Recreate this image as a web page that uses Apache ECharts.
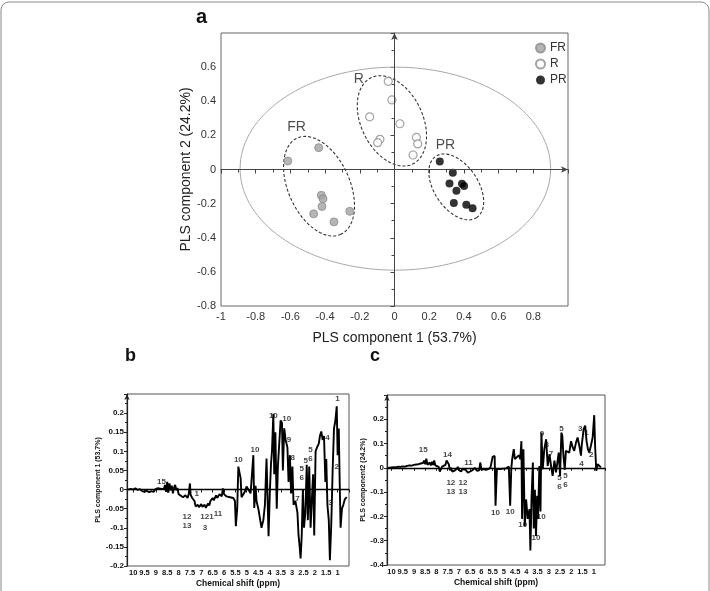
<!DOCTYPE html>
<html>
<head>
<meta charset="utf-8">
<script src="https://cdn.jsdelivr.net/npm/echarts@6/dist/echarts.min.js"></script>
<style>
  html, body { margin: 0; padding: 0; background: #fff; }
  #chart { width: 710px; height: 591px; }
</style>
</head>
<body>
<div id="chart"></div>
<script>
// score plot (panel a)
var frPoints = [[-0.615, 0.05], [-0.437, 0.128], [-0.422, -0.151], [-0.412, -0.171], [-0.418, -0.217], [-0.466, -0.26], [-0.349, -0.307], [-0.258, -0.245]];
var rPoints = [[-0.036, 0.517], [-0.015, 0.408], [-0.143, 0.309], [0.031, 0.268], [-0.084, 0.177], [-0.097, 0.157], [0.126, 0.188], [0.134, 0.15], [0.107, 0.085]];
var prPoints = [[0.261, 0.047], [0.336, -0.019], [0.317, -0.082], [0.389, -0.083], [0.401, -0.097], [0.357, -0.124], [0.342, -0.196], [0.414, -0.206], [0.45, -0.227]];
var groupNames = [[-0.565, 0.247, 'FR'], [-0.206, 0.528, 'R'], [0.294, 0.142, 'PR']];
// ellipses: centre x, centre y, semi-axis a, semi-axis b, angle (deg)
var ellOuter = [0.005, 0.005, 0.895, 0.595, 0];
var ellFR = [-0.435, -0.098, 0.309, 0.178, -66.5];
var ellR = [-0.015, 0.285, 0.28, 0.178, -65.2];
var ellPR = [0.356, -0.102, 0.215, 0.127, -57.1];

// loadings (panels b, c): [chemical shift ppm, loading]
var specB = [[10.22,0],[10.1,0.002],[10.0,0],[9.9,0.003],[9.8,-0.001],[9.7,0.001],[9.6,-0.004],[9.5,-0.006],[9.4,-0.003],[9.3,-0.007],[9.2,-0.004],[9.1,-0.006],[9.0,0.002],[8.9,0.004],[8.8,0.002],[8.72,0.006],[8.65,0.001],[8.6,0.012],[8.55,-0.006],[8.5,0.02],[8.45,-0.008],[8.4,0.016],[8.35,-0.002],[8.3,0.01],[8.25,-0.01],[8.2,0.005],[8.15,0.012],[8.1,-0.002],[8.05,0.004],[8.0,-0.012],[7.9,-0.016],[7.8,-0.02],[7.7,-0.015],[7.6,-0.022],[7.55,-0.01],[7.5,0.016],[7.47,-0.014],[7.4,-0.022],[7.3,-0.03],[7.25,-0.044],[7.15,-0.04],[7.1,-0.046],[7.0,-0.038],[6.95,-0.045],[6.85,-0.04],[6.8,-0.048],[6.7,-0.036],[6.65,-0.042],[6.6,-0.03],[6.5,-0.022],[6.45,-0.028],[6.35,-0.015],[6.3,-0.022],[6.2,-0.012],[6.1,-0.018],[6.05,0.003],[6.0,-0.012],[5.89,-0.018],[5.74,-0.02],[5.59,-0.022],[5.52,-0.03],[5.48,-0.096],[5.42,-0.05],[5.37,0.06],[5.33,0.064],[5.27,0.03],[5.23,-0.02],[5.15,-0.012],[5.08,-0.005],[5.01,0.008],[4.93,0],[4.83,-0.01],[4.76,-0.005],[4.71,0.09],[4.67,-0.048],[4.61,0.01],[4.57,-0.03],[4.49,-0.05],[4.42,-0.075],[4.35,-0.1],[4.27,-0.08],[4.2,-0.04],[4.13,0.081],[4.08,-0.03],[4.04,-0.122],[3.98,0],[3.93,0.07],[3.89,0.1],[3.83,0.198],[3.79,0.04],[3.74,0.15],[3.68,-0.05],[3.63,0.06],[3.57,0.12],[3.51,0.181],[3.45,0.175],[3.41,0.05],[3.35,0.16],[3.29,0.13],[3.21,0.11],[3.16,0.02],[3.1,0.09],[3.05,-0.01],[2.99,0.06],[2.94,-0.04],[2.86,-0.03],[2.77,-0.06],[2.72,-0.12],[2.67,-0.15],[2.63,-0.18],[2.58,-0.12],[2.53,0],[2.48,-0.1],[2.42,-0.06],[2.36,0.065],[2.31,-0.08],[2.25,0.06],[2.19,-0.1],[2.13,-0.02],[2.08,0.04],[2.03,-0.12],[1.97,0.1],[1.91,0.11],[1.83,0.12],[1.78,0.14],[1.72,0.152],[1.66,0.13],[1.6,0.14],[1.54,0.02],[1.5,0.08],[1.45,-0.04],[1.39,-0.08],[1.34,-0.185],[1.28,-0.09],[1.22,0.05],[1.16,0.16],[1.1,0.18],[1.04,0.218],[1.0,0.09],[0.95,0.16],[0.91,0.02],[0.87,-0.1],[0.81,-0.05],[0.75,-0.04],[0.68,-0.025],[0.6,-0.02]];
var specC = [[10.15,0],[10.0,0.002],[9.9,0.003],[9.8,0.002],[9.7,0.005],[9.6,0.004],[9.5,0.006],[9.4,0.005],[9.3,0.008],[9.2,0.01],[9.1,0.009],[9.0,0.012],[8.9,0.014],[8.8,0.015],[8.7,0.018],[8.6,0.02],[8.55,0.03],[8.5,0.015],[8.45,0.038],[8.4,0.012],[8.35,0.008],[8.3,0.022],[8.25,0.01],[8.2,0.025],[8.15,0.012],[8.1,0.03],[8.05,0.01],[8.0,0.008],[7.9,0.004],[7.85,-0.015],[7.8,-0.01],[7.75,0.005],[7.7,0.002],[7.6,0.012],[7.55,0.03],[7.5,0.035],[7.45,0.015],[7.4,-0.01],[7.35,0],[7.3,-0.015],[7.2,-0.012],[7.1,-0.005],[7.05,0.004],[7.0,-0.01],[6.9,-0.015],[6.85,-0.005],[6.8,-0.012],[6.7,-0.008],[6.6,-0.02],[6.55,-0.025],[6.5,-0.015],[6.4,-0.01],[6.3,0],[6.2,-0.012],[6.1,-0.01],[6.05,0.022],[6.0,-0.008],[5.9,-0.005],[5.8,-0.008],[5.7,-0.005],[5.6,0],[5.55,0.004],[5.5,0.045],[5.41,0.049],[5.37,-0.156],[5.31,-0.005],[5.19,-0.005],[5.04,-0.003],[4.9,-0.002],[4.78,0.005],[4.72,-0.156],[4.67,-0.003],[4.63,0.036],[4.56,0.077],[4.51,0.036],[4.42,0.044],[4.33,0.052],[4.27,0.036],[4.22,0.11],[4.19,-0.21],[4.13,0.077],[4.07,-0.24],[4.01,-0.13],[3.94,-0.21],[3.86,-0.17],[3.82,-0.34],[3.77,-0.13],[3.71,0.022],[3.67,-0.25],[3.62,-0.09],[3.57,-0.28],[3.52,-0.115],[3.48,-0.21],[3.42,0.008],[3.37,-0.18],[3.33,0.145],[3.27,-0.005],[3.2,0.077],[3.12,0.118],[3.05,0.008],[2.97,0.056],[2.9,0.008],[2.83,-0.033],[2.75,0.03],[2.68,-0.019],[2.6,-0.026],[2.56,0.063],[2.5,-0.033],[2.44,0.145],[2.4,0.132],[2.35,0.05],[2.29,-0.008],[2.24,0.07],[2.16,0.077],[2.09,0.063],[2.01,0.11],[1.94,0.085],[1.87,0.07],[1.79,0.104],[1.72,0.125],[1.64,0.09],[1.57,0.05],[1.53,0.097],[1.45,0.16],[1.38,0.174],[1.32,0.11],[1.26,0.077],[1.2,0.063],[1.13,0.09],[1.05,0.125],[0.98,0.217],[0.94,0.09],[0.89,-0.012],[0.83,0.015],[0.76,0.008],[0.68,0.002]];
var peaksB = [[8.75,0.02,'15'],[7.2,-0.012,'1'],[7.63,-0.07,'12'],[7.63,-0.096,'13'],[6.75,-0.072,'121'],[6.84,-0.099,'3'],[6.27,-0.063,'11'],[5.37,0.077,'10'],[4.64,0.103,'10'],[3.83,0.193,'10'],[3.24,0.185,'10'],[3.14,0.129,'9'],[2.98,0.084,'8'],[2.77,-0.025,'7'],[2.58,0.055,'5'],[2.58,0.03,'6'],[2.4,0.074,'5'],[2.19,0.081,'6'],[2.19,0.105,'5'],[1.45,0.135,'4'],[1.01,0.237,'1'],[1.04,0.06,'2'],[1.31,-0.034,'3']];
var peaksC = [[8.59,0.074,'15'],[7.51,0.053,'14'],[7.36,-0.06,'12'],[7.36,-0.1,'13'],[6.82,-0.06,'12'],[6.82,-0.1,'13'],[6.57,0.022,'11'],[5.37,-0.184,'10'],[4.72,-0.18,'10'],[4.16,-0.236,'10'],[3.34,-0.2,'10'],[3.57,-0.29,'10'],[3.3,0.141,'9'],[3.09,0.095,'8'],[2.9,0.056,'7'],[2.53,-0.04,'5'],[2.53,-0.078,'6'],[2.26,-0.033,'5'],[2.26,-0.071,'6'],[2.44,0.162,'5'],[1.6,0.16,'3'],[1.32,0.145,'1'],[1.55,0.015,'4'],[1.11,0.052,'2']];

var FONT = '"Liberation Sans", Arial, sans-serif';

function ellipse(p) {
  var cx = p[0], cy = p[1], a = p[2], b = p[3], r = p[4] * Math.PI / 180;
  var pts = [];
  for (var i = 0; i <= 144; i++) {
    var t = i / 144 * 2 * Math.PI;
    pts.push([cx + a * Math.cos(t) * Math.cos(r) - b * Math.sin(t) * Math.sin(r),
              cy + a * Math.cos(t) * Math.sin(r) + b * Math.sin(t) * Math.cos(r)]);
  }
  return pts;
}

function shiftLabel(v) {
  if (v < 1 || v > 10 || Math.abs(v * 2 - Math.round(v * 2)) > 1e-6) return '';
  return String(v);
}

function specAxisX(idx) {
  return {
    type: 'value', gridIndex: idx, inverse: true, min: 0.5, max: idx === 1 ? 10.27 : 10.2, interval: 0.5,
    name: 'Chemical shift (ppm)', nameLocation: 'middle', nameGap: 13,
    nameTextStyle: { fontFamily: FONT, fontSize: 8.5, fontWeight: 'bold', color: '#111' },
    axisLine: { lineStyle: { color: '#222', width: 1.2 } },
    axisTick: { length: 3, lineStyle: { color: '#222' } },
    axisLabel: { fontFamily: FONT, fontSize: 7.5, fontWeight: 'bold', color: '#111', margin: 3, formatter: shiftLabel },
    splitLine: { show: false }
  };
}

function specAxisY(idx, min, max, step, title, gap) {
  return {
    type: 'value', gridIndex: idx, min: min, max: max, interval: step,
    name: title, nameLocation: 'middle', nameGap: gap,
    nameTextStyle: { fontFamily: FONT, fontSize: 7, fontWeight: 'bold', color: '#111' },
    axisLine: { symbol: ['none', 'arrow'], symbolSize: [4, 6], lineStyle: { color: '#222', width: 1.2 } },
    axisTick: { length: 3, lineStyle: { color: '#222' } },
    minorTick: { show: true, splitNumber: 2, length: 2, lineStyle: { color: '#222' } },
    axisLabel: {
      fontFamily: FONT, fontSize: 8, fontWeight: 'bold', color: '#111', margin: 3,
      formatter: function (v) { return Math.abs(v - max) < 1e-9 ? '' : String(+v.toFixed(2)); }
    },
    splitLine: { show: false }
  };
}

function peakSeries(idx, data) {
  return {
    type: 'scatter', xAxisIndex: idx, yAxisIndex: idx, symbolSize: 0, silent: true, z: 5,
    data: data,
    label: { show: true, position: 'inside', formatter: function (p) { return p.data[2]; },
             fontFamily: FONT, fontSize: 8, fontWeight: 'bold', color: '#111' }
  };
}

var chart = echarts.init(document.getElementById('chart'));
chart.setOption({
  animation: false,
  graphic: [
    { type: 'rect', shape: { x: 1, y: 2, width: 708, height: 640, r: 8 }, style: { fill: 'none', stroke: '#8a8a8a', lineWidth: 1 } },
    { type: 'text', left: 196, top: 7, style: { text: 'a', font: 'bold 20px ' + FONT, fill: '#111' } },
    { type: 'text', left: 125, top: 347, style: { text: 'b', font: 'bold 18px ' + FONT, fill: '#111' } },
    { type: 'text', left: 370, top: 347, style: { text: 'c', font: 'bold 18px ' + FONT, fill: '#111' } }
  ],
  legend: {
    orient: 'vertical', left: 530, top: 37, itemWidth: 9, itemHeight: 9, itemGap: 4,
    textStyle: { fontFamily: FONT, fontSize: 12, color: '#333' },
    data: ['FR', 'R', 'PR']
  },
  grid: [
    { left: 221, top: 33, width: 347, height: 273, show: true, borderColor: '#666', borderWidth: 1 },
    { left: 127, top: 394, width: 222, height: 172, show: true, borderColor: '#555', borderWidth: 1 },
    { left: 387, top: 395, width: 218, height: 170, show: true, borderColor: '#555', borderWidth: 1 }
  ],
  xAxis: [
    {
      type: 'value', gridIndex: 0, min: -1, max: 1, interval: 0.2,
      name: 'PLS component 1 (53.7%)', nameLocation: 'middle', nameGap: 25,
      nameTextStyle: { fontFamily: FONT, fontSize: 14, color: '#222' },
      axisLine: { symbol: ['none', 'arrow'], symbolSize: [5, 7], lineStyle: { color: '#444' } },
      axisTick: { length: 4, lineStyle: { color: '#444' } },
      minorTick: { show: true, splitNumber: 2, length: 3, lineStyle: { color: '#444' } },
      axisLabel: { fontFamily: FONT, fontSize: 11, color: '#333', margin: 5,
                   formatter: function (v) { return v >= 0.99 ? '' : String(+v.toFixed(1)); } },
      splitLine: { show: false }
    },
    specAxisX(1),
    specAxisX(2)
  ],
  yAxis: [
    {
      type: 'value', gridIndex: 0, min: -0.8, max: 0.8, interval: 0.2,
      name: 'PLS component 2 (24.2%)', nameLocation: 'middle', nameGap: 23,
      nameTextStyle: { fontFamily: FONT, fontSize: 14, color: '#222' },
      axisLine: { symbol: ['none', 'arrow'], symbolSize: [5, 7], lineStyle: { color: '#444' } },
      axisTick: { length: 4, lineStyle: { color: '#444' } },
      minorTick: { show: true, splitNumber: 2, length: 3, lineStyle: { color: '#444' } },
      axisLabel: { fontFamily: FONT, fontSize: 11, color: '#333', margin: 5,
                   formatter: function (v) { return v >= 0.79 ? '' : String(+v.toFixed(1)); } },
      splitLine: { show: false }
    },
    specAxisY(1, -0.2, 0.25, 0.05, 'PLS component 1 (53.7%)', 17),
    specAxisY(2, -0.4, 0.3, 0.1, 'PLS component2 (24.2%)', 20)
  ],
  series: [
    {
      type: 'line', xAxisIndex: 0, yAxisIndex: 0, data: ellipse(ellOuter), showSymbol: false, silent: true,
      lineStyle: { color: '#a8a8a8', width: 1 },
      markLine: { silent: true, symbol: 'none', label: { show: false },
                  lineStyle: { color: '#444', width: 1, type: 'solid' },
                  data: [{ xAxis: 0 }, { yAxis: 0 }] }
    },
    { type: 'line', xAxisIndex: 0, yAxisIndex: 0, data: ellipse(ellFR), showSymbol: false, silent: true,
      lineStyle: { color: '#333', width: 1.1, type: [3, 2] } },
    { type: 'line', xAxisIndex: 0, yAxisIndex: 0, data: ellipse(ellR), showSymbol: false, silent: true,
      lineStyle: { color: '#333', width: 1.1, type: [3, 2] } },
    { type: 'line', xAxisIndex: 0, yAxisIndex: 0, data: ellipse(ellPR), showSymbol: false, silent: true,
      lineStyle: { color: '#333', width: 1.1, type: [3, 2] } },
    { name: 'FR', type: 'scatter', xAxisIndex: 0, yAxisIndex: 0, data: frPoints, symbolSize: 8, z: 4,
      itemStyle: { color: '#a3a3a3', borderColor: '#8c8c8c', borderWidth: 1 } },
    { name: 'R', type: 'scatter', xAxisIndex: 0, yAxisIndex: 0, data: rPoints, symbolSize: 8, z: 4,
      itemStyle: { color: '#fff', borderColor: '#8c8c8c', borderWidth: 1.2 } },
    { name: 'PR', type: 'scatter', xAxisIndex: 0, yAxisIndex: 0, data: prPoints, symbolSize: 8, z: 4,
      itemStyle: { color: '#000', borderColor: '#000', borderWidth: 0 } },
    {
      type: 'scatter', xAxisIndex: 0, yAxisIndex: 0, data: groupNames, symbolSize: 0, silent: true,
      label: { show: true, position: 'inside', formatter: function (p) { return p.data[2]; },
               fontFamily: FONT, fontSize: 14, color: '#222' }
    },
    {
      type: 'line', xAxisIndex: 1, yAxisIndex: 1, data: specB, showSymbol: false, silent: true,
      lineStyle: { color: '#000', width: 1.9 },
      markLine: { silent: true, symbol: 'none', label: { show: false },
                  lineStyle: { color: '#000', width: 1.4, type: 'solid' }, data: [{ yAxis: 0 }] }
    },
    peakSeries(1, peaksB),
    {
      type: 'line', xAxisIndex: 2, yAxisIndex: 2, data: specC, showSymbol: false, silent: true,
      lineStyle: { color: '#000', width: 1.9 },
      markLine: { silent: true, symbol: 'none', label: { show: false },
                  lineStyle: { color: '#000', width: 1.4, type: 'solid' }, data: [{ yAxis: 0 }] }
    },
    peakSeries(2, peaksC)
  ]
});
</script>
</body>
</html>
